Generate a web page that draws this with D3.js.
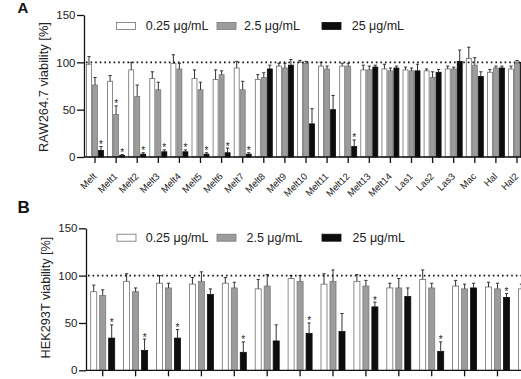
<!DOCTYPE html>
<html><head><meta charset="utf-8">
<script src="https://cdn.jsdelivr.net/npm/d3@7"></script>
<style>
body{margin:0;background:#fff}
svg{display:block;background:#fff}
text{font-family:"Liberation Sans",Arial,Helvetica,sans-serif}
</style>
</head><body>
<svg id="chart" width="521" height="379"></svg>
<script>
// ---------- data ----------
const seriesNames = ["0.25 μg/mL", "2.5 μg/mL", "25 μg/mL"];
const yTicks = [0, 50, 100, 150];

const categoriesA = ["Melt","Melt1","Melt2","Melt3","Melt4","Melt5","Melt6","Melt7","Melt8","Melt9",
  "Melt10","Melt11","Melt12","Melt13","Melt14","Las1","Las2","Las3","Mac","Hal","Hal2"];
const lowA     = [98, 80, 92, 83, 99, 83, 82, 94, 82, 96, 100, 96, 96, 92, 93, 92, 91, 93, 104, 89.5, 93];
const lowErrA  = [8, 6, 8, 7, 9, 9, 10, 7, 5, 3, 2, 4, 3, 5, 5, 3, 2, 3, 12, 3, 3];
const midA     = [76, 45, 64, 71, 93, 71, 87, 71, 84, 94, 99, 93, 96, 92, 91, 91, 84, 93, 97, 94, 99];
const midErrA  = [8, 9, 12, 8, 6, 8, 4, 9, 5, 5, 2, 3, 3, 4, 3, 3, 6, 2, 8, 2, 3];
const highA    = [7, 1.5, 3, 5.5, 5.5, 3, 4.5, 3, 93, 97, 35, 50, 11, 95, 94, 91, 89.5, 101, 85, 94, 100];
const highErrA = [4, 1, 1.5, 2, 2, 1.5, 5, 1.5, 4, 6, 16, 15, 7, 2, 2, 7, 3, 12, 5, 2, 14];
const sigLowA  = [0,0,0,0,0,0,0,0,0,0,0,0,0,0,0,0,0,0,0,0,0];
const sigMidA  = [0,1,0,0,0,0,0,0,0,0,0,0,0,0,0,0,0,0,0,0,0];
const sigHighA = [1,1,1,1,1,1,1,1,0,0,0,0,1,0,0,0,0,0,0,0,0];

const categoriesB = ["Melt","Melt1","Melt2","Melt3","Melt4","Melt5","Melt6","Melt7","Melt8","Melt9",
  "Melt10","Melt11","Melt12","Melt13"];
const lowB     = [83, 94, 92, 91, 92, 86, 97, 91, 94, 87, 96, 89, 88, 86];
const lowErrB  = [7, 8, 8, 7, 6, 10, 3, 11, 7, 5, 10, 6, 5, 5];
const midB     = [79, 83, 87, 94, 87, 89, 94, 94, 89, 87, 87, 86, 86, 88];
const midErrB  = [6, 4, 5, 10, 6, 12, 6, 12, 6, 10, 5, 5, 6, 5];
const highB    = [34, 21, 34, 80, 19, 31, 39, 41, 67, 78, 20, 87, 77, 80];
const highErrB = [14, 12, 9, 6, 11, 17, 11, 19, 5, 9, 10, 5, 4, 6];
const sigLowB  = [0,0,0,0,0,0,0,0,0,0,0,0,0,0];
const sigMidB  = [0,0,0,0,0,0,0,0,0,0,0,0,0,0];
const sigHighB = [1,1,1,0,1,0,1,0,1,0,1,0,1,0];

const refLine = 100;

// ---------- drawing ----------
const svg = d3.select("#chart");
const fills = ["#ffffff", "#9c9c9c", "#0d0d0d"];
const strokes = ["#707070", "#7a7a7a", "#0d0d0d"];

function panel(cfg) {
  const g = svg.append("g");
  const n = cfg.categories.length;
  const x0 = d3.scaleBand().domain(cfg.categories)
    .range([cfg.firstCenter - cfg.step / 2, cfg.firstCenter - cfg.step / 2 + cfg.step * n])
    .paddingInner(0).paddingOuter(0);
  const x1 = d3.scaleBand().domain(seriesNames)
    .range([-cfg.groupWidth / 2, cfg.groupWidth / 2]).paddingInner(cfg.barPad);
  const y = d3.scaleLinear().domain([0, 150]).range([cfg.y0, cfg.y150]);
  const cx = c => x0(c) + x0.bandwidth() / 2;

  const series = [
    {name: seriesNames[0], v: cfg.low, e: cfg.lowErr, s: cfg.sigLow},
    {name: seriesNames[1], v: cfg.mid, e: cfg.midErr, s: cfg.sigMid},
    {name: seriesNames[2], v: cfg.high, e: cfg.highErr, s: cfg.sigHigh}
  ];

  series.forEach((sr, si) => {
    const rows = cfg.categories.map((c, i) => ({c, v: sr.v[i], e: sr.e[i], s: sr.s[i]}));
    const sg = g.append("g");
    sg.selectAll("rect").data(rows).join("rect")
      .attr("x", d => cx(d.c) + x1(sr.name))
      .attr("width", x1.bandwidth())
      .attr("y", d => y(d.v))
      .attr("height", d => y(0) - y(d.v))
      .attr("fill", fills[si]).attr("stroke", strokes[si]).attr("stroke-width", 0.8);
    sg.selectAll("path.err").data(rows).join("path").attr("class", "err")
      .attr("d", d => {
        const xm = cx(d.c) + x1(sr.name) + x1.bandwidth() / 2;
        const yt = y(d.v + d.e), yb = y(d.v);
        return `M${xm},${yb}V${yt}M${xm - 1.6},${yt}H${xm + 1.6}`;
      })
      .attr("stroke", "#333").attr("stroke-width", 1).attr("fill", "none");
    sg.selectAll("text.sig").data(rows.filter(d => d.s)).join("text").attr("class", "sig")
      .attr("x", d => cx(d.c) + x1(sr.name) + x1.bandwidth() / 2)
      .attr("y", d => y(d.v + d.e) + 1.5)
      .attr("text-anchor", "middle").attr("font-size", 10).attr("fill", "#222")
      .text("*");
  });

  g.append("line")
    .attr("x1", cfg.axisX + 2).attr("x2", 521)
    .attr("y1", y(refLine)).attr("y2", y(refLine))
    .attr("stroke", "#111").attr("stroke-width", 1.6).attr("stroke-dasharray", "1.6,3");

  const xa = g.append("g").attr("transform", `translate(0,${y(0)})`)
    .call(d3.axisBottom(x0).tickSizeOuter(0).tickSize(6).tickFormat(""));
  xa.select(".domain").attr("d", `M${cfg.axisX},0H${cfg.firstCenter - cfg.step / 2 + cfg.step * n + 10}`);
  xa.selectAll("path,line").attr("stroke", "#111").attr("stroke-width", 1.3);

  if (cfg.showLabels) {
    g.append("g").selectAll("text").data(cfg.categories).join("text")
      .attr("transform", c => `translate(${cx(c) + 2},${y(0) + 20}) rotate(-45)`)
      .attr("text-anchor", "end").attr("font-size", 9.5).attr("fill", "#222")
      .text(c => c);
  }

  const ya = g.append("g").attr("transform", `translate(${cfg.axisX},0)`)
    .call(d3.axisLeft(y).tickValues(yTicks).tickSize(7).tickSizeOuter(0).tickPadding(1.5));
  ya.selectAll("path,line").attr("stroke", "#111").attr("stroke-width", 1.3);
  ya.selectAll("text").attr("font-size", 11.5).attr("fill", "#222")
    .attr("font-family", "'Liberation Sans',Arial,sans-serif");

  g.append("text")
    .attr("transform", `translate(${cfg.ylabelX},${cfg.ylabelY}) rotate(-90)`)
    .attr("text-anchor", "middle").attr("font-size", cfg.ylabelSize).attr("fill", "#222")
    .text(cfg.ylabel);

  g.append("text").attr("x", 17.5).attr("y", cfg.letterY)
    .attr("font-size", cfg.letterSize).attr("font-weight", "bold").attr("fill", "#111").text(cfg.letter);

  const lg = g.append("g");
  cfg.legendX.forEach((lx, i) => {
    lg.append("rect").attr("x", lx).attr("y", cfg.legendY - 3.5).attr("width", 19).attr("height", 7)
      .attr("fill", fills[i]).attr("stroke", strokes[i]).attr("stroke-width", 0.8);
    lg.append("text").attr("x", cfg.legendTextX[i]).attr("y", cfg.legendY + 4.3)
      .attr("font-size", 12.5).attr("fill", "#222").text(seriesNames[i]);
  });
}

panel({
  categories: categoriesA, low: lowA, lowErr: lowErrA, mid: midA, midErr: midErrA,
  high: highA, highErr: highErrA, sigLow: sigLowA, sigMid: sigMidA, sigHigh: sigHighA,
  firstCenter: 95, step: 21.1, groupWidth: 17, barPad: 0.17,
  axisX: 84, y0: 157, y150: 15, showLabels: true,
  ylabel: "RAW264.7 viability [%]", ylabelX: 47.5, ylabelY: 87, ylabelSize: 12.9,
  letter: "A", letterY: 12.5, letterSize: 15,
  legendY: 26, legendX: [116.5, 217, 322], legendTextX: [145.7, 244, 351.7]
});

panel({
  categories: categoriesB, low: lowB, lowErr: lowErrB, mid: midB, midErr: midErrB,
  high: highB, highErr: highErrB, sigLow: sigLowB, sigMid: sigMidB, sigHigh: sigHighB,
  firstCenter: 102.7, step: 32.9, groupWidth: 24, barPad: 0.33,
  axisX: 86, y0: 370.3, y150: 228.3, showLabels: false,
  ylabel: "HEK293T viability [%]", ylabelX: 49.5, ylabelY: 297.5, ylabelSize: 12.7,
  letter: "B", letterY: 213, letterSize: 17,
  legendY: 237.7, legendX: [117, 217, 322], legendTextX: [145.7, 246.5, 352.5]
});
</script>
</body></html>
